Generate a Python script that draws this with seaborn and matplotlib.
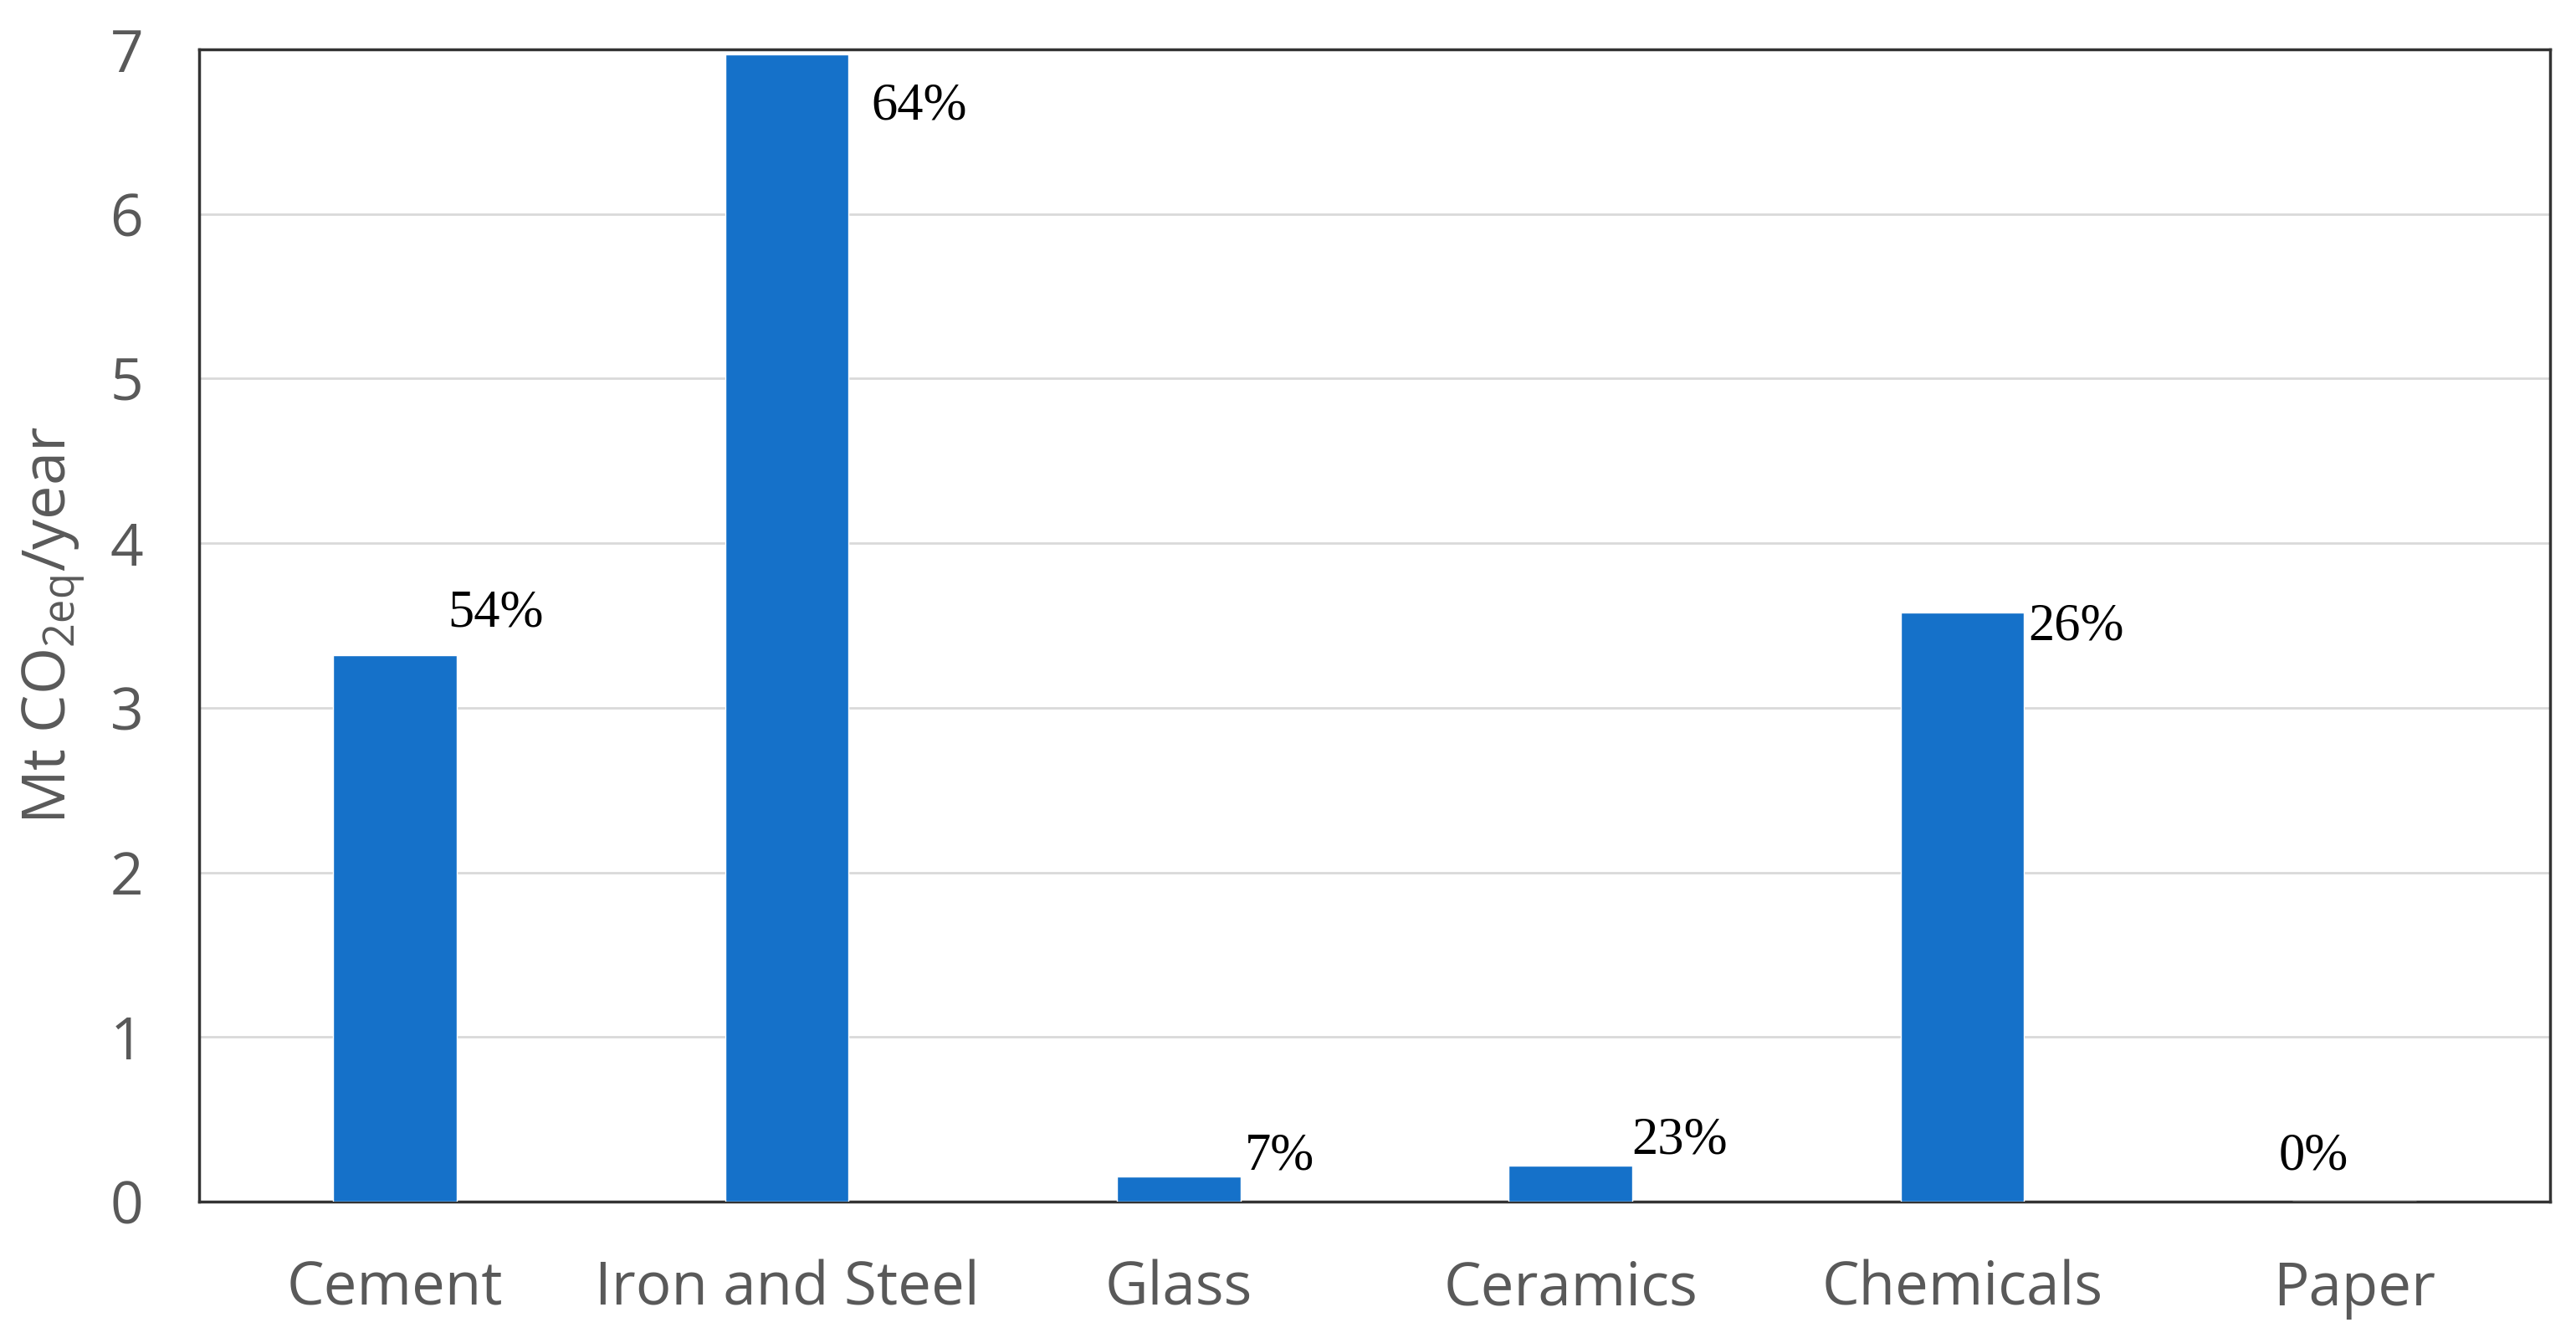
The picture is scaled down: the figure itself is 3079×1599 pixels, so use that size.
import matplotlib
matplotlib.use("Agg")
import matplotlib.pyplot as plt
import seaborn as sns
import pandas as pd

categories = ["Cement", "Iron and Steel", "Glass", "Ceramics", "Chemicals", "Paper"]
emissions = [3.32, 6.97, 0.15, 0.22, 3.58, 0.0]
share_labels = ["54%", "64%", "7%", "23%", "26%", "0%"]
y_ticks = [0, 1, 2, 3, 4, 5, 6, 7]

# label placement (x offset from bar centre in category units, y position in data units)
label_dx = [0.135, 0.215, 0.168, 0.156, 0.168, -0.193]
label_y = [3.57, 6.65, 0.27, 0.37, 3.49, 0.27]

sns.set_theme(style="white")
plt.rcParams["font.family"] = ["Open Sans", "DejaVu Sans"]

df = pd.DataFrame({"category": categories, "value": emissions})

fig = plt.figure(figsize=(30.79, 15.99), dpi=100)
ax = fig.add_axes([238 / 3079, 1 - 1436 / 1599, (3048 - 238) / 3079, (1436 - 59) / 1599])

sns.barplot(data=df, x="category", y="value", color="#1571C9", width=0.315,
            saturation=1, ax=ax, zorder=3)

ax.set_xlim(-0.5, len(categories) - 0.5)
ax.set_ylim(0, 7)
ax.set_yticks(y_ticks)
ax.yaxis.grid(True, color="#d9d9d9", linewidth=2, zorder=0)
ax.xaxis.grid(False)
ax.set_axisbelow(True)

for s in ax.spines.values():
    s.set_color("#333333")
    s.set_linewidth(2.5)
    s.set_visible(True)

ax.tick_params(axis="both", length=0, colors="#595959")
ax.tick_params(axis="y", labelsize=50, pad=48)
ax.tick_params(axis="x", labelsize=51, pad=50)

ax.set_xlabel("")
ax.set_ylabel(r"Mt CO$_{\mathregular{2eq}}$/year", fontsize=52, color="#595959", labelpad=20)

for i, (lab, dx, yy) in enumerate(zip(share_labels, label_dx, label_y)):
    ax.text(i + dx, yy, lab, ha="left", va="center", fontsize=45,
            family=["Liberation Serif", "DejaVu Serif"], color="black", zorder=4)

fig.savefig("out.png", dpi=100, facecolor="white")
